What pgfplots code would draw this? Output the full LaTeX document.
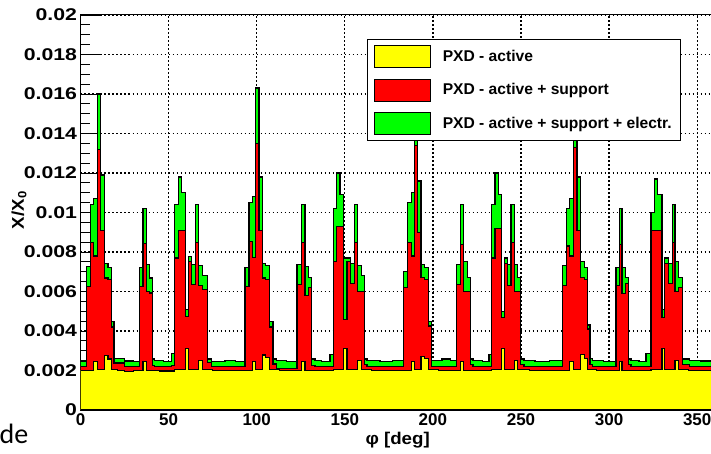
\documentclass[border=0pt]{standalone}
\usepackage{pgfplots}
\pgfplotsset{compat=1.18}
\usepackage{fontspec}
\setmainfont{Liberation Sans}
\newfontfamily\tickfont{Liberation Sans}[FakeStretch=1.25]
\newfontfamily\labfont{Liberation Sans}[FakeStretch=1.1]
\newfontfamily\carlito{Carlito}
\definecolor{rootyellow}{RGB}{255,255,0}
\definecolor{rootred}{RGB}{255,0,0}
\definecolor{rootgreen}{RGB}{0,255,0}
\tikzset{rootgrid/.style={black, line width=1.1pt, dash pattern=on 1.4pt off 2.6pt}}
\tikzset{rootvgrid/.style={black, line width=1.3pt, dash pattern=on 2pt off 2pt}}
\begin{document}
\begin{tikzpicture}
\begin{axis}[
  at={(0pt,0pt)}, anchor=south west,
  scale only axis, width=634.3pt, height=395pt,
  xmin=0, xmax=360, ymin=0, ymax=0.02,
  xtick={0,50,100,150,200,250,300,350},
  ytick={0,0.002,0.004,0.006,0.008,0.01,0.012,0.014,0.016,0.018,0.02},
  minor y tick num=3,
  scaled y ticks=false,
  /pgf/number format/assume math mode=true,
  yticklabel style={/pgf/number format/fixed,/pgf/number format/precision=3},
  ticklabel style={font=\tickfont\fontsize{17}{17}\selectfont\bfseries},
  xticklabel style={font=\fontsize{17}{17}\selectfont\bfseries},
  xtick pos=bottom,
  ytick pos=left,
  tick align=inside,
  major tick length=19pt, minor tick length=9.5pt,
  tick style={black, line width=0.9pt},
  xmajorgrids=false, ymajorgrids=true,
  major grid style={rootgrid},
  axis line style={black, line width=1pt},
  xlabel={φ [deg]},
  ylabel={X/X\textsubscript{0}},
  label style={font=\labfont\fontsize{17}{17}\selectfont\bfseries},
  xlabel style={at={(axis description cs:0.5,0)}, anchor=center, yshift=-30pt},
  ylabel style={at={(axis description cs:-0.097,0.506)}, anchor=center},
  legend style={at={(axis description cs:0.4517,0.9386)}, anchor=north west,
    draw=black, line width=0.8pt, fill=white, inner xsep=7pt, inner ysep=0pt,
    row sep=0pt, nodes={minimum height=33.5pt},
    font=\fontsize{15.6}{15.6}\selectfont\bfseries},
  legend cell align=left,
]
\addlegendimage{legend image code/.code={\draw[fill=rootyellow,draw=black,line width=0.8pt] (0pt,-11pt) rectangle (56pt,11pt); \path[draw=none,fill=none] (0pt,-11pt) rectangle (66pt,11pt);}}
\addlegendentry{PXD - active}
\addlegendimage{legend image code/.code={\draw[fill=rootred,draw=black,line width=0.8pt] (0pt,-11pt) rectangle (56pt,11pt); \path[draw=none,fill=none] (0pt,-11pt) rectangle (66pt,11pt);}}
\addlegendentry{PXD - active + support}
\addlegendimage{legend image code/.code={\draw[fill=rootgreen,draw=black,line width=0.8pt] (0pt,-11pt) rectangle (56pt,11pt); \path[draw=none,fill=none] (0pt,-11pt) rectangle (66pt,11pt);}}
\addlegendentry{PXD - active + support + electr.}

\draw[rootvgrid] (axis cs:50,0) -- (axis cs:50,0.02);
\draw[rootvgrid] (axis cs:100,0) -- (axis cs:100,0.02);
\draw[rootvgrid] (axis cs:150,0) -- (axis cs:150,0.02);
\draw[rootvgrid] (axis cs:200,0) -- (axis cs:200,0.02);
\draw[rootvgrid] (axis cs:250,0) -- (axis cs:250,0.02);
\draw[rootvgrid] (axis cs:300,0) -- (axis cs:300,0.02);
\draw[rootvgrid] (axis cs:350,0) -- (axis cs:350,0.02);

% green: active + support + electronics
\addplot[const plot, fill=rootgreen, draw=black, line width=1.2pt, forget plot] coordinates {
(0,0.00245) (3.3,0.00726) (5.6,0.0104) (7.5,0.0107) (9.5,0.0160) (11.4,0.0119) (13.7,0.00743) (15.6,0.0072) (17.5,0.0045) (19.0,0.0026) (25.0,0.00248) (29.8,0.00245)
(33.6,0.0072) (35.5,0.0102) (37.4,0.00738) (39.3,0.00668) (40.8,0.00258) (42.1,0.0025) (47,0.00246) (51.6,0.00286)
(53.4,0.0104) (55.4,0.0118) (57.5,0.0110) (59.4,0.0051) (61.3,0.00777) (63.2,0.00735) (65.1,0.0104) (67.0,0.00733) (69.1,0.0068) (72.0,0.00258) (74.4,0.00246) (82,0.0025) (88,0.00244)
(93.4,0.0072) (95.6,0.0105) (97.5,0.0108) (99.4,0.0163) (101.3,0.0118) (103.3,0.00743) (105.2,0.0073) (107.3,0.0045) (109.2,0.00258) (111.3,0.0025) (117,0.00246)
(122.9,0.00735) (125.3,0.0104) (127.4,0.00726) (129.3,0.00671) (131.0,0.00258) (133.1,0.0025) (137,0.00245) (141.6,0.00283)
(143.4,0.0102) (145.4,0.0120) (147.3,0.0109) (149.4,0.0077) (151.3,0.0077) (153.4,0.0074) (155.6,0.0104) (157.3,0.0073) (159.5,0.0068) (161.3,0.00258) (162.6,0.0025) (170,0.00245) (177,0.0025)
(183.4,0.0070) (185.8,0.0105) (187.7,0.0110) (189.4,0.0163) (191.3,0.0116) (193.3,0.00735) (195.2,0.0072) (197.4,0.0045) (199.3,0.0025) (205.2,0.00258) (210,0.0025)
(213.6,0.00735) (215.8,0.0104) (217.3,0.0075) (219.6,0.0067) (221.4,0.00258) (222.8,0.0025) (228,0.00246) (231.8,0.00283)
(233.3,0.0104) (235.3,0.0120) (237.2,0.0109) (239.1,0.0050) (240.5,0.0077) (242.4,0.00735) (244.3,0.0104) (246.1,0.00735) (248.0,0.0067) (249.8,0.00258) (251.7,0.0025) (258,0.00246) (266,0.0025)
(273.4,0.0073) (275.7,0.0102) (277.5,0.0107) (279.9,0.0163) (281.8,0.0118) (283.8,0.0075) (285.9,0.0072) (287.6,0.0043) (289.2,0.0026) (290.7,0.0025) (297,0.00246)
(303.9,0.0072) (305.8,0.0102) (307.3,0.0072) (309.2,0.0067) (311.1,0.00258) (312.4,0.0025) (317,0.00246) (321.0,0.00286)
(323.8,0.0100) (325.7,0.0117) (327.6,0.0109) (330.0,0.0051) (331.4,0.0077) (333.8,0.0074) (336.0,0.0104) (337.4,0.0075) (339.5,0.0067) (341.8,0.00258) (345.5,0.0025) (352,0.00248) (360,0.00248)
} \closedcycle;

% red: active + support
\addplot[const plot, fill=rootred, draw=black, line width=1.2pt, forget plot] coordinates {
(0,0.00222) (3.3,0.00626) (5.6,0.0085) (7.5,0.0078) (9.5,0.0132) (11.4,0.0091) (13.7,0.00668) (15.6,0.0066) (17.5,0.0042) (19.0,0.00238) (25.0,0.0022)
(33.6,0.00626) (35.5,0.00844) (37.4,0.0060) (39.3,0.00592) (40.8,0.00224) (42.1,0.0022) (51.6,0.00224)
(53.4,0.0077) (55.4,0.0091) (57.5,0.0091) (59.4,0.00475) (61.3,0.0075) (63.2,0.00634) (65.1,0.0085) (67.0,0.0063) (69.1,0.0061) (72.0,0.0024) (74.4,0.0022)
(93.4,0.00626) (95.6,0.00855) (97.5,0.00773) (99.4,0.0135) (101.3,0.0091) (103.3,0.00668) (105.2,0.0066) (107.3,0.0042) (109.2,0.00233) (111.3,0.0021)
(122.9,0.00634) (125.3,0.0085) (127.4,0.0058) (129.3,0.0062) (131.0,0.00224) (133.1,0.0022)
(143.4,0.0075) (145.4,0.0093) (147.3,0.0093) (149.4,0.0046) (151.3,0.0075) (153.4,0.0064) (155.6,0.0085) (157.3,0.0060) (159.5,0.0060) (161.3,0.0023) (162.6,0.0022)
(183.4,0.0062) (185.8,0.0085) (187.7,0.0078) (189.4,0.0134) (191.3,0.0090) (193.3,0.0067) (195.2,0.0066) (197.4,0.00425) (199.3,0.0022)
(213.6,0.00634) (215.8,0.0084) (217.3,0.0060) (219.6,0.0060) (221.4,0.0023) (222.8,0.0022)
(233.3,0.0077) (235.3,0.0092) (237.2,0.0092) (239.1,0.0047) (240.5,0.0074) (242.4,0.0063) (244.3,0.0085) (246.1,0.0060) (248.0,0.0060) (249.8,0.0023) (251.7,0.0022)
(273.4,0.0063) (275.7,0.0083) (277.5,0.0078) (279.9,0.0133) (281.8,0.0091) (283.8,0.0067) (285.9,0.0066) (287.6,0.0041) (289.2,0.0023) (290.7,0.0022)
(303.9,0.0063) (305.8,0.0084) (307.3,0.0059) (309.2,0.0064) (311.1,0.0023) (312.4,0.0022)
(323.8,0.0091) (325.7,0.0091) (327.6,0.0091) (330.0,0.0047) (331.4,0.0074) (333.8,0.0064) (336.0,0.0085) (337.4,0.0060) (339.5,0.0062) (341.8,0.0023) (345.5,0.0022) (360,0.0022)
} \closedcycle;

% yellow: active
\addplot[const plot, fill=rootyellow, draw=black, line width=1.2pt, forget plot] coordinates {
(0,0.00202) (7.5,0.00244) (9.5,0.00205) (13.7,0.00274) (15.6,0.00258) (17.5,0.00205) (21,0.00198) (25,0.00195) (30,0.00202)
(35.5,0.00246) (37.4,0.00202) (45,0.00197) (53.4,0.00205) (59.4,0.0031) (61.3,0.00205) (67.0,0.0025) (69.1,0.00205) (75,0.00198) (85,0.00202)
(97.5,0.00244) (99.4,0.00205) (103.3,0.00278) (105.2,0.00266) (107.3,0.00205) (113,0.00198) (119,0.00202)
(125.3,0.00246) (127.4,0.00202) (135,0.00198) (143.4,0.00205) (149.4,0.0031) (151.3,0.00205) (157.3,0.0025) (159.5,0.00205) (165,0.00198) (175,0.00202)
(187.7,0.00246) (189.4,0.00205) (193.3,0.0027) (195.2,0.0026) (197.4,0.00205) (203,0.00198) (209,0.00202)
(215.8,0.00246) (217.3,0.00202) (225,0.00198) (233.3,0.00205) (239.1,0.0031) (240.5,0.00205) (246.1,0.0025) (248.0,0.00205) (255,0.00198) (265,0.00202)
(277.5,0.00246) (279.9,0.00205) (283.8,0.0028) (285.9,0.0026) (287.6,0.00205) (293,0.00198) (299,0.00202)
(305.8,0.00246) (307.3,0.00202) (315,0.00198) (323.8,0.00205) (330.0,0.0031) (331.4,0.00205) (337.4,0.0025) (339.5,0.00205) (345,0.00198) (352,0.00202) (360,0.00202)
} \closedcycle;
\end{axis}
\node[anchor=base west, inner sep=0pt, font=\carlito\fontsize{28}{28}\selectfont] at (-81pt,-33pt) {de};
\pgfresetboundingbox
\path[use as bounding box] (-80.5pt,-43pt) rectangle (630.5pt,410pt);
\end{tikzpicture}
\end{document}
